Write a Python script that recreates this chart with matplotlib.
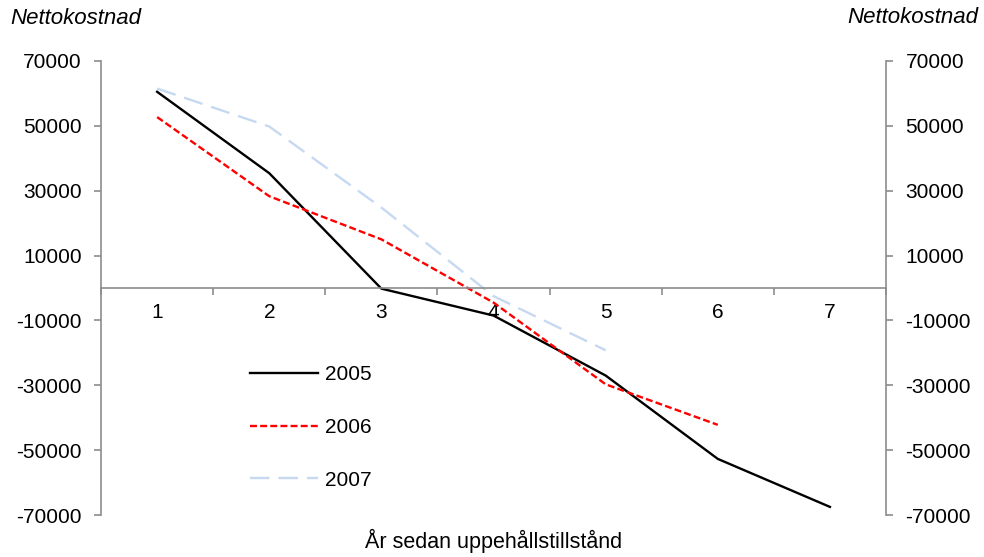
import matplotlib.pyplot as plt
import numpy as np

plt.rcParams["font.family"] = ["Liberation Sans", "DejaVu Sans"]
plt.rcParams["lines.scale_dashes"] = False

years = [1, 2, 3, 4, 5, 6, 7]
cost_2005 = [60500, 35400, -200, -8500, -27000, -52700, -67500]
cost_2006 = [52700, 28300, 15000, -4500, -29700, -42200]
cost_2007 = [61500, 49800, 24800, -2500, -19200]
y_ticks = [70000, 50000, 30000, 10000, -10000, -30000, -50000, -70000]

axis_gray = "#8c8c8c"
fs = 15

fig = plt.figure(figsize=(9.84, 5.57), dpi=100)
ax = fig.add_axes([0.1027, 0.0754, 0.7977, 0.8151])

ax.plot(years[:len(cost_2005)], cost_2005, color="black", lw=1.7, label="2005")
ax.plot(years[:len(cost_2006)], cost_2006, color="#ff0000", lw=1.7,
        dashes=(5, 2.3), label="2006")
ax.plot(years[:len(cost_2007)], cost_2007, color="#c6d9f1", lw=1.7,
        dashes=(14, 6.5), label="2007")

ax.set_xlim(0.5, 7.5)
ax.set_ylim(-70000, 70000)

# spines
ax.spines["top"].set_visible(False)
ax.spines["bottom"].set_position(("data", 0))
for side in ["left", "right", "bottom"]:
    ax.spines[side].set_color(axis_gray)
    ax.spines[side].set_linewidth(1.2)

# x ticks: labels at categories, tick marks at boundaries
ax.set_xticks(years)
ax.set_xticklabels([str(y) for y in years])
ax.set_xticks(np.arange(0.5, 8, 1.0), minor=True)
ax.tick_params(axis="x", which="major", length=0, pad=10.5, labelsize=fs)
ax.tick_params(axis="x", which="minor", length=5, width=1.2, color=axis_gray, direction="out")

# y ticks on both sides
ax.set_yticks(y_ticks)
ax.set_yticklabels([str(v) for v in y_ticks])
ax.tick_params(axis="y", which="both", left=True, right=True, labelleft=True,
               labelright=True, length=5, width=1.2, color=axis_gray,
               direction="out", pad=9, labelsize=fs)

fig.text(0.010, 0.967, "Nettokostnad", fontsize=16, style="italic", va="center", ha="left")
fig.text(0.994, 0.969, "Nettokostnad", fontsize=16, style="italic", va="center", ha="right")
ax.text(0.5, -0.058, "År sedan uppehållstillstånd", transform=ax.transAxes,
        fontsize=15.5, ha="center", va="center")

ax.legend(loc="upper left", bbox_to_anchor=(0.19, 0.330), frameon=False,
          fontsize=fs, handlelength=3.27, labelspacing=1.62, handletextpad=0.34,
          borderpad=0, borderaxespad=0)

fig.savefig("out.png", dpi=100)
